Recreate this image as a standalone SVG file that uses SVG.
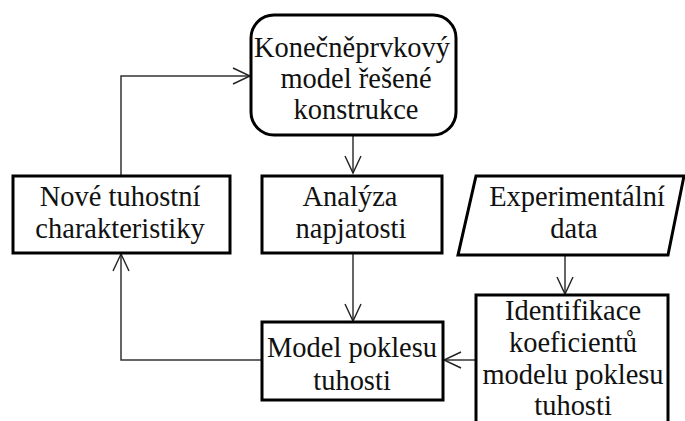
<svg xmlns="http://www.w3.org/2000/svg" width="685" height="421" viewBox="0 0 685 421">
<defs>
<marker id="ah" markerUnits="userSpaceOnUse" markerWidth="20" markerHeight="20" refX="17" refY="8" orient="auto" overflow="visible">
<path d="M0,0 L17,8 L0,16" fill="none" stroke="#222" stroke-width="1.4"/>
</marker>
</defs>
<style>
.box{fill:#fff;stroke:#000;stroke-width:3}
.t{font-family:"Liberation Serif","Times New Roman",serif;font-size:30px;fill:#111;text-anchor:middle}
.c{fill:none;stroke:#333;stroke-width:1.5}
</style>
<rect width="685" height="421" fill="#fff"/>
<g id="connectors">
<path class="c" d="M353,135 V173" marker-end="url(#ah)"/>
<path class="c" d="M353,253 V321" marker-end="url(#ah)"/>
<path class="c" d="M262,360 H121 V254" marker-end="url(#ah)"/>
<path class="c" d="M121,176 V76 H250" marker-end="url(#ah)"/>
<path class="c" d="M565,255 V294" marker-end="url(#ah)"/>
<path class="c" d="M476,360 H444" marker-end="url(#ah)"/>
</g>
<g id="n1">
<rect class="box" x="251" y="15" width="205" height="120" rx="23"/>
<text class="t" transform="translate(352,57) scale(0.95,1)">Konečněprvkový</text>
<text class="t" transform="translate(356,88) scale(0.95,1)">model řešené</text>
<text class="t" transform="translate(356,119) scale(0.95,1)">konstrukce</text>
</g>
<g id="n2">
<rect class="box" x="13" y="176" width="217" height="77"/>
<text class="t" transform="translate(120,206) scale(0.95,1)">Nové tuhostní</text>
<text class="t" transform="translate(120,238) scale(0.95,1)">charakteristiky</text>
</g>
<g id="n3">
<rect class="box" x="262" y="176" width="180" height="77"/>
<text class="t" transform="translate(350,206) scale(0.95,1)">Analýza</text>
<text class="t" transform="translate(351,238) scale(0.95,1)">napjatosti</text>
</g>
<g id="n4">
<polygon class="box" points="476,176 684,176 668,255 458,255"/>
<text class="t" transform="translate(577,206) scale(0.95,1)">Experimentální</text>
<text class="t" transform="translate(574,238) scale(0.95,1)">data</text>
</g>
<g id="n5">
<rect class="box" x="262" y="322" width="181" height="78"/>
<text class="t" transform="translate(352,357) scale(0.95,1)">Model poklesu</text>
<text class="t" transform="translate(352,390) scale(0.95,1)">tuhosti</text>
</g>
<g id="n6">
<rect class="box" x="476" y="295" width="192" height="140"/>
<text class="t" transform="translate(573,320) scale(0.95,1)">Identifikace</text>
<text class="t" transform="translate(573,352) scale(0.95,1)">koeficientů</text>
<text class="t" transform="translate(573,384) scale(0.95,1)">modelu poklesu</text>
<text class="t" transform="translate(573,415) scale(0.95,1)">tuhosti</text>
</g>
</svg>
